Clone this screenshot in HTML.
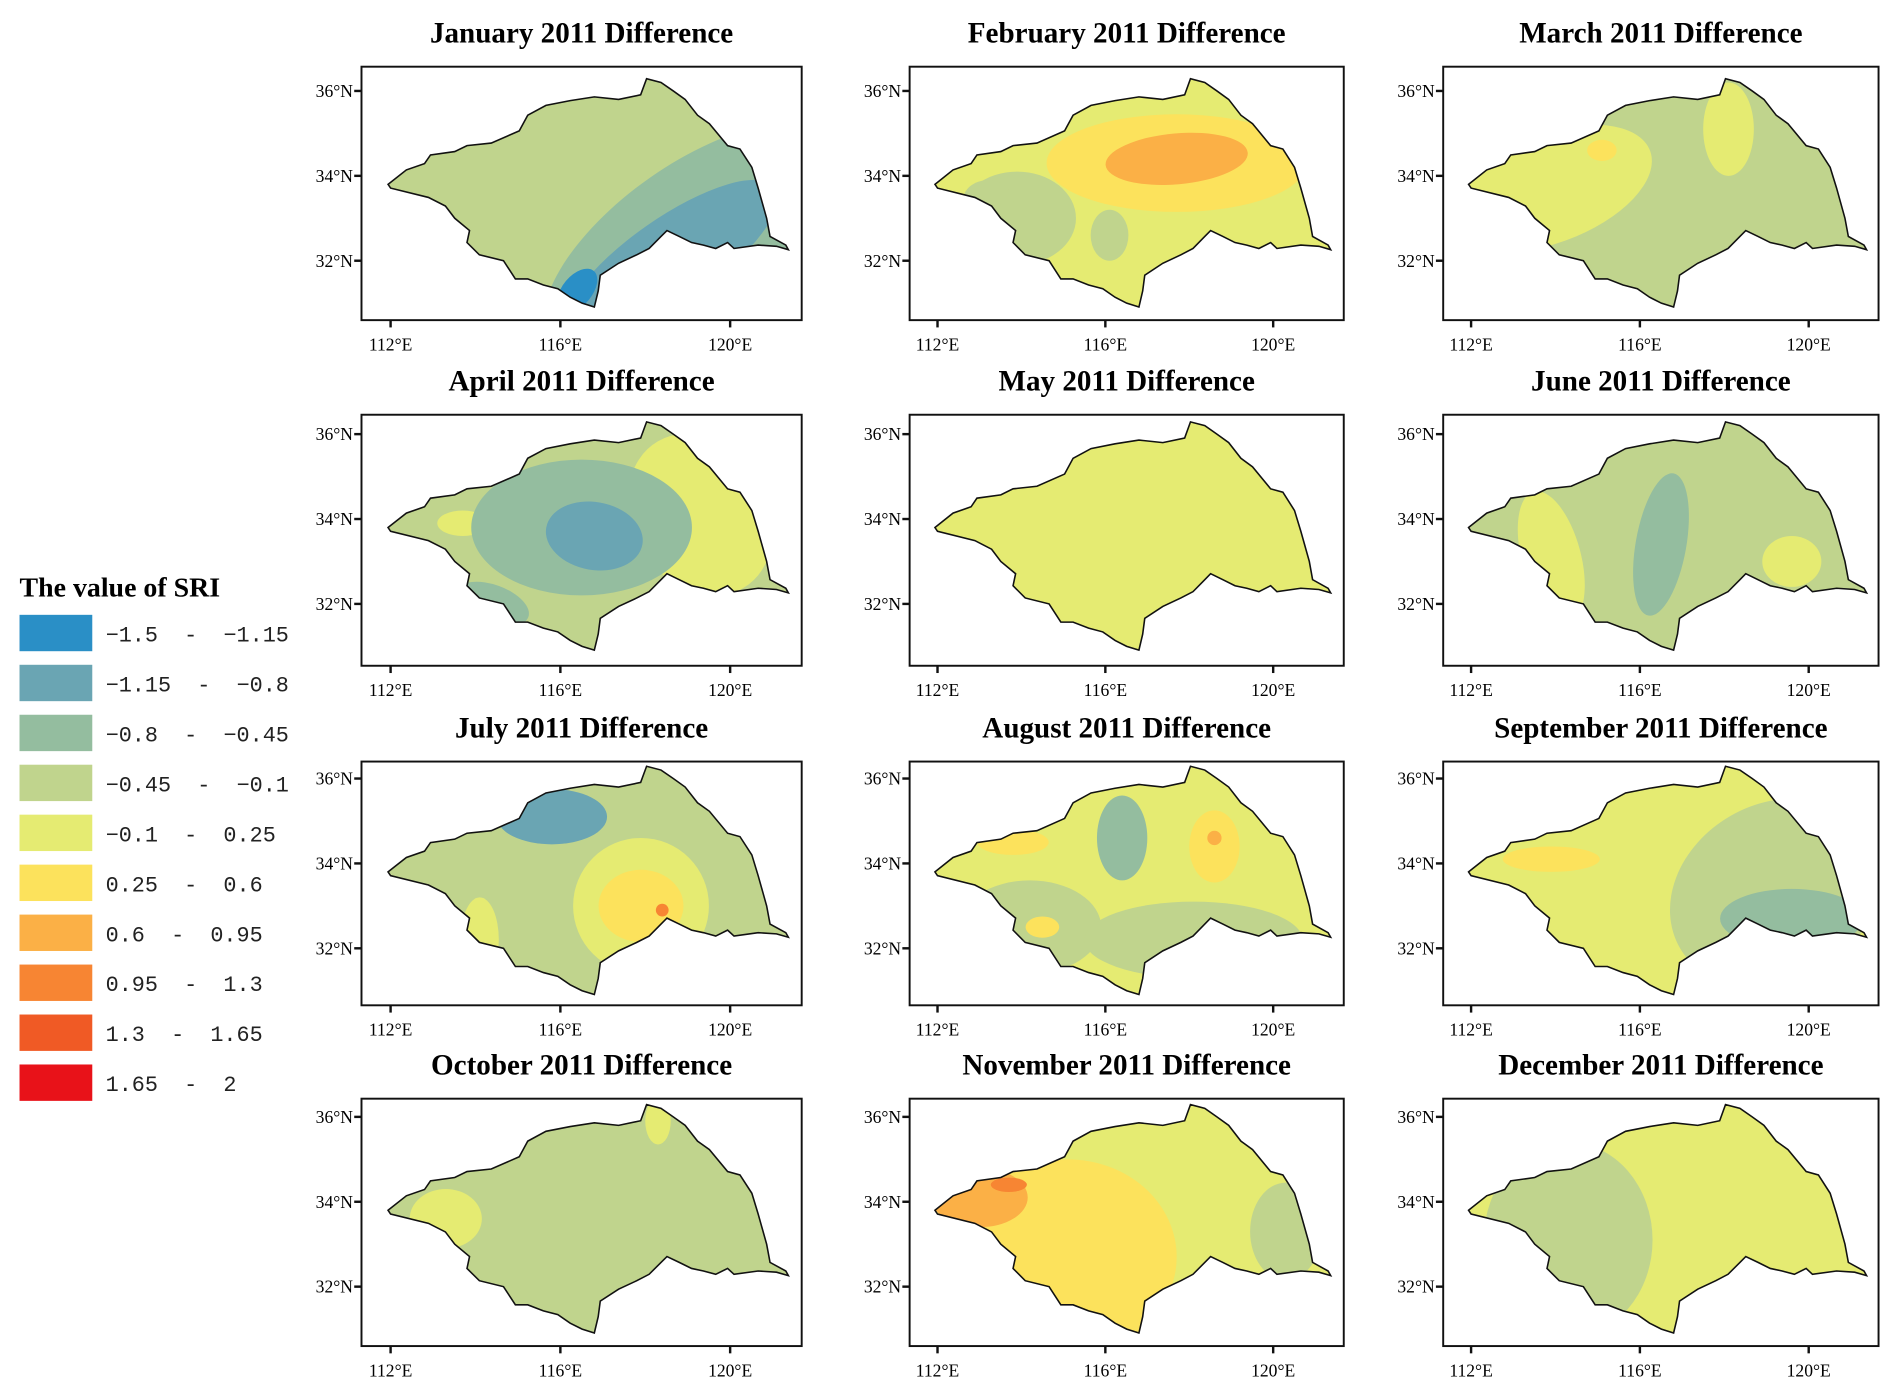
<!DOCTYPE html>
<html><head><meta charset="utf-8"><style>
html,body{margin:0;padding:0;background:#fff;}
svg{display:block;}
</style></head><body>
<svg id="chart" xmlns="http://www.w3.org/2000/svg" width="1892" height="1397" viewBox="0 0 1560 1152">
<rect width="1560" height="1152" fill="#fff"/>
<g id="legend"></g>
<g id="panels"></g>
</svg>
<script>
const NS='http://www.w3.org/2000/svg';
const classLabels=['\u22121.5  -  \u22121.15','\u22121.15  -  \u22120.8','\u22120.8  -  \u22120.45','\u22120.45  -  \u22120.1','\u22120.1  -  0.25','0.25  -  0.6','0.6  -  0.95','0.95  -  1.3','1.3  -  1.65','1.65  -  2'];
const classColors=['#2a8fc6','#6aa5b3','#94bd9f','#c0d48d','#e5eb72','#fce25c','#fbb046','#f78533','#f05a25','#e81219'];
const months=['January','February','March','April','May','June','July','August','September','October','November','December'];
const latTicks=[36,34,32];
const lonTicks=[112,116,120];
const outline=[[111.94,33.8],[112.37,34.14],[112.8,34.29],[112.94,34.49],[113.51,34.57],[113.8,34.71],[114.37,34.77],[115.03,35.06],[115.23,35.43],[115.66,35.66],[116.23,35.77],[116.8,35.86],[117.37,35.8],[117.89,35.91],[118.03,36.29],[118.37,36.2],[118.66,36],[118.94,35.8],[119.23,35.43],[119.51,35.23],[119.94,34.71],[120.23,34.63],[120.51,34.2],[120.66,33.71],[120.86,33],[120.94,32.57],[121.31,32.37],[121.37,32.26],[121.09,32.34],[120.66,32.37],[120.09,32.29],[119.94,32.43],[119.66,32.29],[119.37,32.37],[119.09,32.43],[118.8,32.57],[118.51,32.71],[118.37,32.57],[118.09,32.29],[117.8,32.14],[117.37,31.94],[116.94,31.66],[116.89,31.29],[116.8,30.91],[116.51,31],[116.23,31.14],[115.94,31.34],[115.6,31.43],[115.23,31.57],[114.94,31.57],[114.66,32],[114.09,32.14],[113.8,32.43],[113.86,32.71],[113.51,33],[113.29,33.29],[112.89,33.49],[112,33.71]];
const panelValues=[
 {base:3,blobs:[[119.2,32.4,4.2,1.9,-35,2],[118.6,32.0,3.0,1.0,-35,1],[116.4,31.3,0.6,0.35,-50,0]]},
 {base:4,blobs:[[117.7,34.3,3.1,1.15,0,5],[117.7,34.4,1.7,0.6,-5,6],[113.9,33,1.4,1.1,0,3],[116.1,32.6,0.45,0.6,0,3],[113.2,33.4,0.6,0.5,0,3]]},
 {base:3,blobs:[[113.8,33.7,2.6,1.3,-20,4],[118.1,35.1,0.6,1.1,0,4],[115.1,34.6,0.35,0.25,0,5]]},
 {base:3,blobs:[[119.3,34.1,1.6,2.0,-30,4],[113.7,33.9,0.6,0.3,0,4],[116.5,33.8,2.6,1.6,0,2],[116.8,33.6,1.15,0.8,10,1],[114.4,32,0.9,0.45,20,2]]},
 {base:4,blobs:[]},
 {base:3,blobs:[[113.9,33.1,0.7,1.6,-15,4],[116.5,33.4,0.6,1.7,10,2],[119.6,33,0.7,0.6,0,4],[119.7,35.8,0.2,0.4,0,2]]},
 {base:3,blobs:[[115.8,35.1,1.3,0.65,0,1],[117.9,33,1.6,1.6,0,4],[117.9,33,1.0,0.85,0,5],[118.4,32.9,0.15,0.15,0,7],[114.1,32.2,0.45,1.0,0,4]]},
 {base:4,blobs:[[114.2,32.5,1.7,1.1,0,3],[118.1,32.2,2.6,0.9,0,3],[116.4,34.6,0.6,1.0,0,2],[113.8,34.5,0.85,0.3,0,5],[118.6,34.4,0.6,0.85,0,5],[118.6,34.6,0.17,0.17,0,6],[114.5,32.5,0.4,0.25,0,5]]},
 {base:4,blobs:[[119.2,33.3,2.6,2.1,-30,3],[119.6,32.7,1.7,0.7,0,2],[113.9,34.1,1.15,0.3,0,5]]},
 {base:3,blobs:[[113.3,33.6,0.85,0.7,0,4],[118.3,35.9,0.3,0.55,0,4]]},
 {base:4,blobs:[[115.1,32.7,2.6,2.3,0,5],[113,34.1,1.15,0.7,0,6],[113.7,34.4,0.43,0.17,0,7],[120.3,33.3,0.85,1.15,0,3]]},
 {base:4,blobs:[[114.3,33.1,2.0,2.3,0,3]]}
];
const colX=[322,773,1213], rowY=[75,358,642,921];
const colScale=[35,34.6,34.8];
const frameL=[298,750,1190], frameR=[661,1108,1549];
const frameTop=[55,342,628,906], frameBot=[264,549,829,1110];
const panels=document.getElementById('panels');
function mk(tag,attrs,parent){const e=document.createElementNS(NS,tag);for(const k in attrs)e.setAttribute(k,attrs[k]);parent.appendChild(e);return e;}
const leg=document.getElementById('legend');
const lt=mk('text',{x:16,y:492,'font-family':'Liberation Serif, serif','font-weight':'bold','font-size':23},leg);
lt.textContent='The value of SRI';


classLabels.forEach((l,i)=>{
 const g=mk('g',{},leg);
 
 
 mk('rect',{x:16,y:507+i*41.2,width:60,height:30,fill:classColors[i]},g);
 const t=mk('text',{x:87,y:529+i*41.2,'font-family':'Liberation Mono, monospace','font-size':18,fill:'#222',style:'white-space:pre'},g);
 t.textContent=l;
});
months.forEach((m,i)=>{
 const c=i%3, r=Math.floor(i/3);
 const ox=colX[c], oy=rowY[r], k=colScale[c];
 const sx=lon=>ox+(lon-112)*k;
 const sy=lat=>oy-(lat-36)*35;
 const g=mk('g',{},panels);
 
 
 const fl=frameL[c], fr=frameR[c], ft=frameTop[r], fb=frameBot[r];
 const title=mk('text',{x:(fl+fr)/2,y:ft-20,'text-anchor':'middle','font-family':'Liberation Serif, serif','font-weight':'bold','font-size':24},g);
 title.textContent=m+' 2011 Difference';
 
 
 const d='M'+outline.map(p=>sx(p[0]).toFixed(1)+','+sy(p[1]).toFixed(1)).join('L')+'Z';
 const cp=mk('clipPath',{id:'clip'+i},g);
 mk('path',{d:d},cp);
 const mg=mk('g',{'clip-path':'url(#clip'+i+')'},g);
 
 
 const pv=panelValues[i];
 mk('rect',{x:fl,y:ft,width:fr-fl,height:fb-ft,fill:classColors[pv.base]},mg);
 pv.blobs.forEach(b=>{
  const e=mk('ellipse',{cx:sx(b[0]),cy:sy(b[1]),rx:b[2]*k,ry:b[3]*35,transform:'rotate('+b[4]+' '+sx(b[0])+' '+sy(b[1])+')',fill:classColors[b[5]]},mg);
  
  
 });
 const ol=mk('path',{d:d,fill:'none',stroke:'#111','stroke-width':1.3},g);
 
 
 const fr_=mk('rect',{x:fl,y:ft,width:fr-fl,height:fb-ft,fill:'none',stroke:'#111','stroke-width':1.6},g);
 
 
 latTicks.forEach(v=>{
  mk('line',{x1:fl-6,x2:fl,y1:sy(v),y2:sy(v),stroke:'#111','stroke-width':2},g);
  const t=mk('text',{x:fl-7,y:sy(v)+5,'text-anchor':'end','font-family':'Liberation Serif, serif','font-size':14.5},g);
  t.textContent=v+'\u00B0N';
  
  
 });
 lonTicks.forEach(v=>{
  mk('line',{x1:sx(v),x2:sx(v),y1:fb,y2:fb+6,stroke:'#111','stroke-width':2},g);
  const t=mk('text',{x:sx(v),y:fb+25,'text-anchor':'middle','font-family':'Liberation Serif, serif','font-size':14.5},g);
  t.textContent=v+'\u00B0E';
  
  
 });
});
</script>
</body></html>
